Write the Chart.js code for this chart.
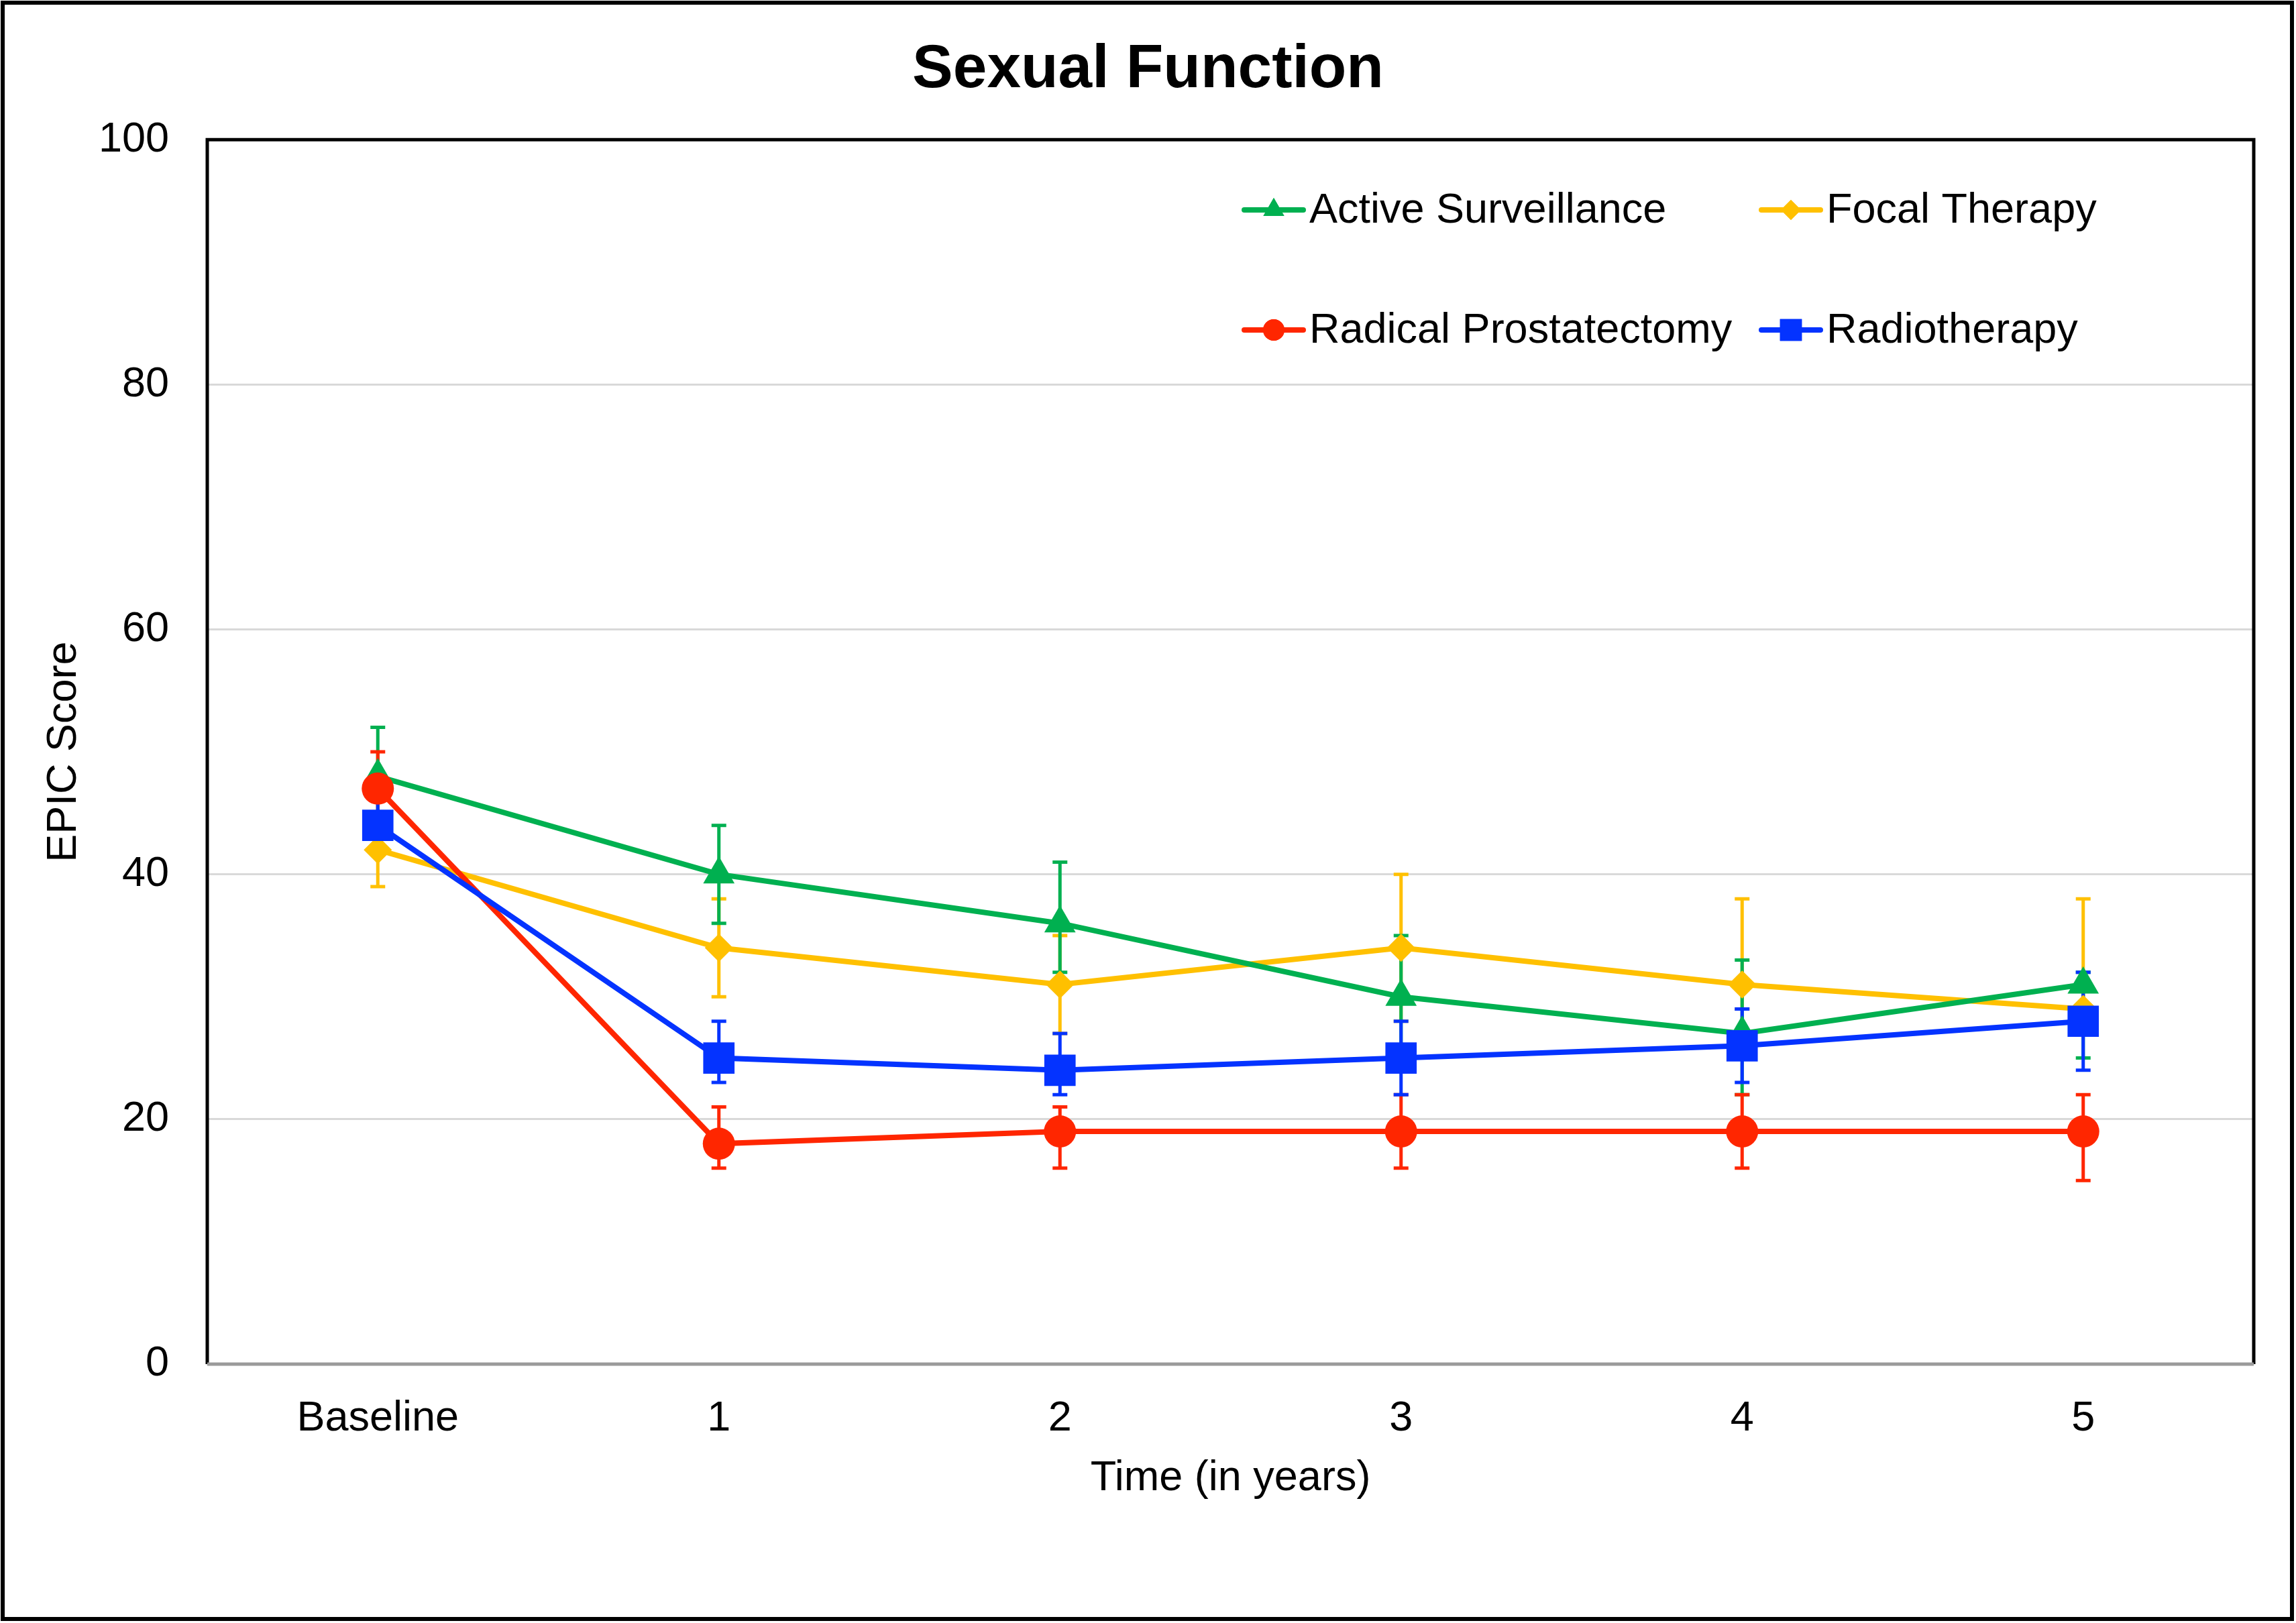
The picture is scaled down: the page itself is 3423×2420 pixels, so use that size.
<!DOCTYPE html>
<html>
<head>
<meta charset="utf-8">
<script src="https://cdn.jsdelivr.net/npm/chart.js@4/dist/chart.umd.min.js"></script>
<style>
html,body{margin:0;padding:0;background:#fff;}
#wrap{width:3423px;height:2420px;}
</style>
</head>
<body>
<div id="wrap"><canvas id="c" width="3423" height="2420"></canvas></div>
<script>
// ---- data ----
const categories = ["Baseline", "1", "2", "3", "4", "5"];
const seriesNames = ["Active Surveillance", "Focal Therapy", "Radical Prostatectomy", "Radiotherapy"];

const activeSurveillance = [48, 40, 36, 30, 27, 31];
const activeSurveillanceUpper = [52, 44, 41, 35, 33, 32];
const activeSurveillanceLower = [44, 36, 32, 25, 22, 25];

const focalTherapy = [42, 34, 31, 34, 31, 29];
const focalTherapyUpper = [45, 38, 35, 40, 38, 38];
const focalTherapyLower = [39, 30, 27, 28, 29, 27];

const radicalProstatectomy = [47, 18, 19, 19, 19, 19];
const radicalProstatectomyUpper = [50, 21, 21, 22, 22, 22];
const radicalProstatectomyLower = [44, 16, 16, 16, 16, 15];

const radiotherapy = [44, 25, 24, 25, 26, 28];
const radiotherapyUpper = [46, 28, 27, 28, 29, 32];
const radiotherapyLower = [42, 23, 22, 22, 23, 24];

const yTicks = [0, 20, 40, 60, 80, 100];

// ---- styling ----
const COLORS = {as: "#00B050", ft: "#FFC000", rp: "#FF2600", rt: "#0433FF"};
const FONT = "'Liberation Sans', Arial, sans-serif";

const datasets = [
  {label: seriesNames[0], data: activeSurveillance, upper: activeSurveillanceUpper, lower: activeSurveillanceLower,
   borderColor: COLORS.as, backgroundColor: COLORS.as, pointStyle: 'triangle', pointRadius: 27, order: 3, legendRadius: 18},
  {label: seriesNames[1], data: focalTherapy, upper: focalTherapyUpper, lower: focalTherapyLower,
   borderColor: COLORS.ft, backgroundColor: COLORS.ft, pointStyle: 'rectRot', pointRadius: 21, order: 4, legendRadius: 15},
  {label: seriesNames[2], data: radicalProstatectomy, upper: radicalProstatectomyUpper, lower: radicalProstatectomyLower,
   borderColor: COLORS.rp, backgroundColor: COLORS.rp, pointStyle: 'circle', pointRadius: 24, order: 2, legendRadius: 16},
  {label: seriesNames[3], data: radiotherapy, upper: radiotherapyUpper, lower: radiotherapyLower,
   borderColor: COLORS.rt, backgroundColor: COLORS.rt, pointStyle: 'rect', pointRadius: 33, order: 1, legendRadius: 23}
].map(d => Object.assign(d, {borderWidth: 8, pointBorderWidth: 0, pointHoverRadius: d.pointRadius, tension: 0, fill: false}));

const LEFT = 309, RIGHT = 3360, TOP = 208, BOTTOM = 2034, W = 3423, H = 2420;

const framePlugin = {
  id: 'frame',
  beforeDraw(chart) {
    const ctx = chart.ctx;
    ctx.save();
    ctx.fillStyle = '#fff';
    ctx.fillRect(0, 0, W, H);
    ctx.restore();
  },
  beforeDatasetsDraw(chart) {
    // error bars, under markers
    const ctx = chart.ctx;
    const xs = chart.scales.x, ys = chart.scales.y;
    ctx.save();
    chart.data.datasets.slice().sort((a, b) => b.order - a.order).forEach(ds => {
      ctx.strokeStyle = ds.borderColor;
      ctx.lineWidth = 5;
      ds.data.forEach((v, i) => {
        const x = xs.getPixelForValue(i);
        const yU = ys.getPixelForValue(ds.upper[i]);
        const yL = ys.getPixelForValue(ds.lower[i]);
        ctx.beginPath();
        ctx.moveTo(x, yU); ctx.lineTo(x, yL);
        ctx.moveTo(x - 11, yU); ctx.lineTo(x + 11, yU);
        ctx.moveTo(x - 11, yL); ctx.lineTo(x + 11, yL);
        ctx.stroke();
      });
    });
    ctx.restore();
  },
  afterDraw(chart) {
    const ctx = chart.ctx;
    const a = chart.chartArea;
    ctx.save();
    // plot frame
    ctx.strokeStyle = '#000';
    ctx.lineWidth = 5;
    ctx.beginPath();
    ctx.moveTo(a.left, a.bottom);
    ctx.lineTo(a.left, a.top);
    ctx.lineTo(a.right, a.top);
    ctx.lineTo(a.right, a.bottom);
    ctx.stroke();
    ctx.strokeStyle = '#9a9a9a';
    ctx.lineWidth = 5;
    ctx.beginPath();
    ctx.moveTo(a.left, a.bottom);
    ctx.lineTo(a.right, a.bottom);
    ctx.stroke();
    // outer border
    ctx.strokeStyle = '#000';
    ctx.lineWidth = 6;
    ctx.strokeRect(4, 4, W - 10, H - 10);
    // legend
    const H_ = Chart.helpers;
    const pos = [[1855, 313], [2626, 313], [1855, 492], [2626, 492]];
    chart.data.datasets.forEach((ds, i) => {
      const [lx, ly] = pos[i];
      ctx.strokeStyle = ds.borderColor;
      ctx.lineWidth = 8;
      ctx.lineCap = 'round';
      ctx.beginPath();
      ctx.moveTo(lx, ly); ctx.lineTo(lx + 88, ly);
      ctx.stroke();
      ctx.fillStyle = ds.backgroundColor;
      H_.drawPoint(ctx, {pointStyle: ds.pointStyle, radius: ds.legendRadius, borderWidth: 0, rotation: 0}, lx + 44, ly);
      ctx.fill();
      ctx.fillStyle = '#000';
      ctx.font = '63px ' + FONT;
      ctx.textBaseline = 'middle';
      ctx.textAlign = 'left';
      ctx.fillText(ds.label, lx + 97, ly + 2);
    });
    ctx.restore();
  }
};

new Chart(document.getElementById('c'), {
  type: 'line',
  data: {labels: categories, datasets: datasets},
  options: {
    responsive: false,
    animation: false,
    devicePixelRatio: 1,
    layout: {padding: 0},
    plugins: {
      legend: {display: false},
      tooltip: {enabled: false},
      title: {
        display: true,
        text: 'Sexual Function',
        color: '#000',
        font: {family: FONT, size: 91, weight: 'bold', lineHeight: 1.2},
        padding: {top: 50, bottom: TOP - 50 - 109}
      }
    },
    scales: {
      x: {
        type: 'category',
        offset: true,
        grid: {display: false, drawTicks: false},
        border: {display: false},
        ticks: {color: '#000', font: {family: FONT, size: 63}, padding: 44, maxRotation: 0},
        title: {display: true, text: 'Time (in years)', color: '#000', font: {family: FONT, size: 63, lineHeight: 1.2}, padding: {top: 0, bottom: 178}},
        afterFit(s) { s.height = H - BOTTOM; }
      },
      y: {
        min: 0, max: 100,
        afterBuildTicks(s) { s.ticks = yTicks.map(v => ({value: v})); },
        grid: {
          drawTicks: false,
          color: ctx => (ctx.tick && (ctx.tick.value === 0 || ctx.tick.value === 100)) ? 'rgba(0,0,0,0)' : '#d9d9d9',
          lineWidth: 3
        },
        border: {display: false},
        ticks: {color: '#000', font: {family: FONT, size: 63}, padding: 57},
        title: {display: true, text: 'EPIC Score', color: '#000', font: {family: FONT, size: 63, lineHeight: 1.2}, padding: {top: 58, bottom: 0}},
        afterFit(s) { s.width = LEFT; }
      },
      yRight: {
        position: 'right',
        min: 0, max: 100,
        grid: {display: false, drawTicks: false},
        border: {display: false},
        ticks: {display: false},
        afterFit(s) { s.width = W - RIGHT; }
      }
    }
  },
  plugins: [framePlugin]
});
</script>
</body>
</html>
